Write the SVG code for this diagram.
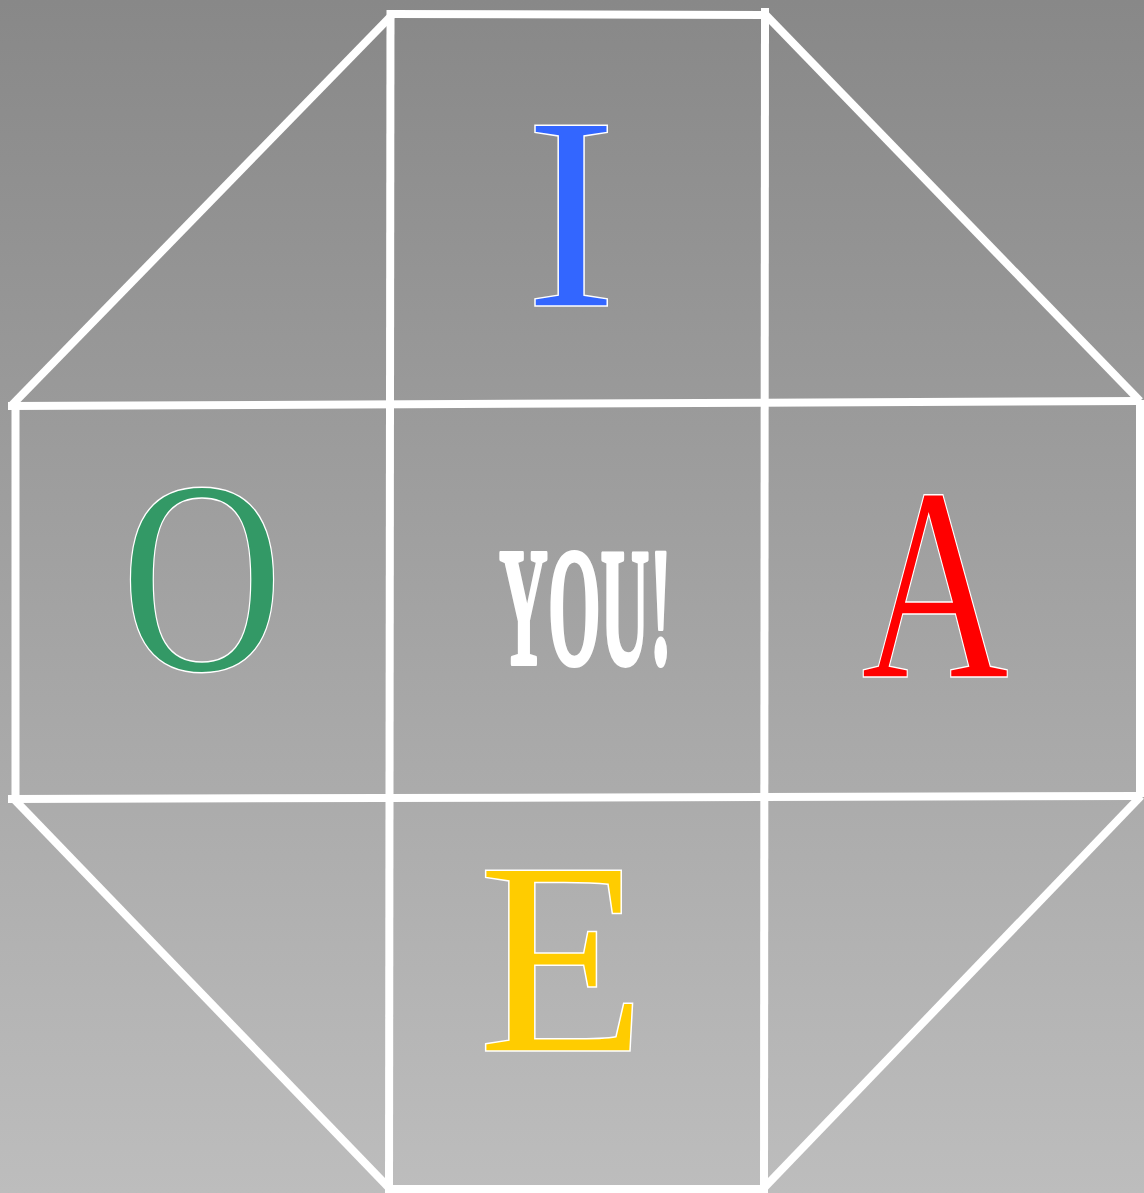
<svg xmlns="http://www.w3.org/2000/svg" width="1144" height="1193" viewBox="0 0 1144 1193">
<defs>
<linearGradient id="bg" x1="0" y1="0" x2="0" y2="1">
<stop offset="0" stop-color="#888888"/>
<stop offset="1" stop-color="#bdbdbd"/>
</linearGradient>
</defs>
<style>
.ln{stroke:#ffffff;stroke-width:8;fill:none;stroke-linecap:butt}
.big{font-family:"Liberation Serif","Times New Roman",serif;font-size:276px;text-anchor:middle;stroke:#ffffff;stroke-width:1.5}
.you{font-family:"Liberation Serif","Times New Roman",serif;font-weight:bold;font-size:170px;fill:#ffffff;stroke:#ffffff;stroke-width:4;stroke-linejoin:round}
</style>
<rect x="0" y="0" width="1144" height="1193" fill="url(#bg)"/>
<g id="connectors">
<path class="ln" d="M390,14 L766,15"/>
<path class="ln" d="M390.5,10 L389,1193"/>
<path class="ln" d="M765,8 L764,1193"/>
<path class="ln" d="M8,406 L1140,401"/>
<path class="ln" d="M8,799 L1140,796"/>
<path class="ln" d="M15.5,404 L15.5,799"/>
<path class="ln" d="M1140,400 L1140,797"/>
<path class="ln" d="M389,1189 L766,1189"/>
<path class="ln" d="M11,406 L393,14"/>
<path class="ln" d="M762,11 L1140,401"/>
<path class="ln" d="M11,796 L391,1190"/>
<path class="ln" d="M762,1190 L1141,796"/>
</g>
<g id="node-I"><text class="big" x="571" y="306" fill="#3366ff">I</text></g>
<g id="node-O"><text class="big" transform="translate(202,0) scale(0.81,1)" x="0" y="670" fill="#339966">O</text></g>
<g id="node-A"><text class="big" transform="translate(935,0) scale(0.74,1)" x="0" y="677" fill="#ff0000">A</text></g>
<g id="node-E"><text class="big" x="562" y="1051" fill="#ffcc00">E</text></g>
<g id="node-you"><text class="you" x="499" y="664" textLength="173" lengthAdjust="spacingAndGlyphs">YOU!</text></g>
</svg>
